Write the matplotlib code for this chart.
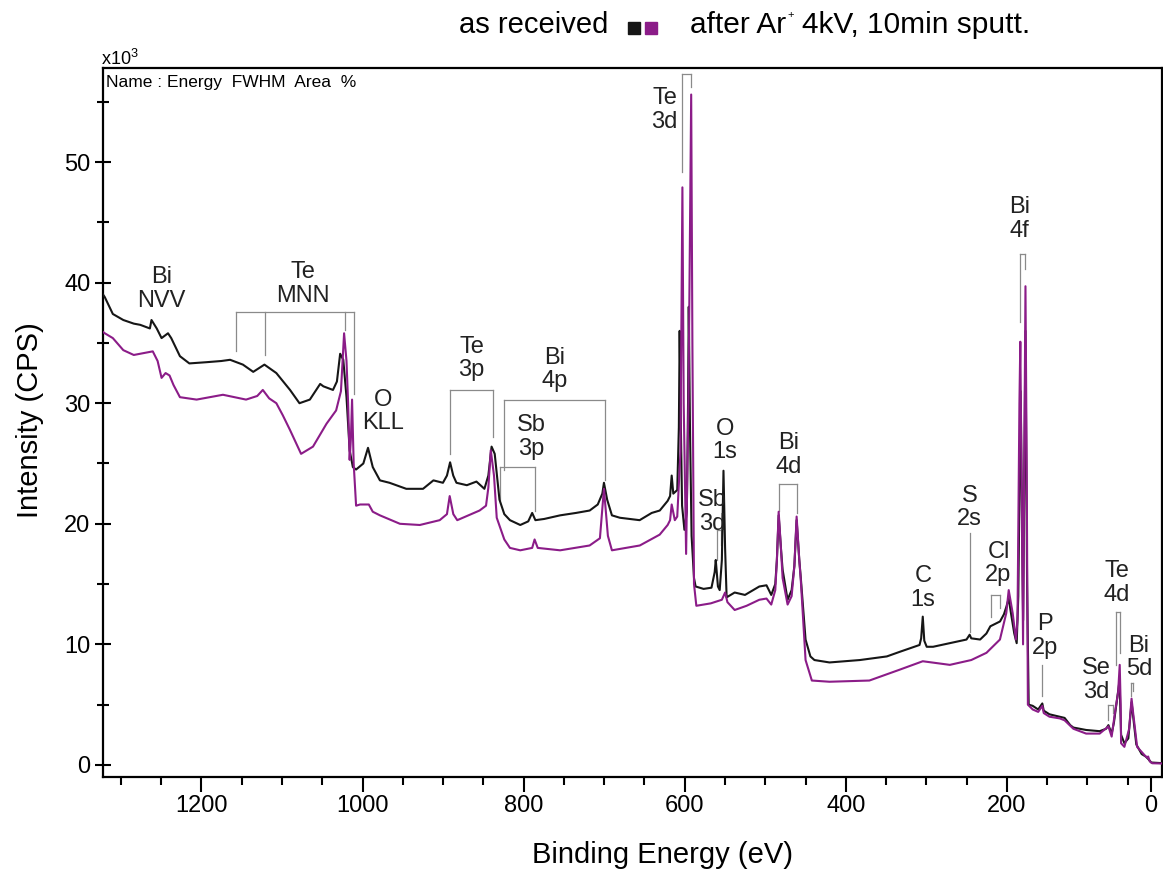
import matplotlib
matplotlib.use('Agg')
import matplotlib.pyplot as plt
from matplotlib.patches import Rectangle
from matplotlib.ticker import FixedLocator, MultipleLocator

plt.rcParams['font.family'] = ['Liberation Sans', 'DejaVu Sans']
plt.rcParams['mathtext.fontset'] = 'custom'
plt.rcParams['mathtext.rm'] = 'Liberation Sans'
plt.rcParams['mathtext.it'] = 'Liberation Sans:italic'

# --- data (binding energy in eV, intensity in 10^3 CPS) ---
black_ev = [1322, 1320, 1310, 1297, 1284, 1276, 1264, 1262, 1255.5, 1249.5, 1241.5, 1237.5,
            1226.7, 1215, 1194, 1175.3, 1164.4, 1148.5, 1135.7, 1121.8, 1107, 1090, 1078.3,
            1065.4, 1052.6, 1048.6, 1036.7, 1031.8, 1027.8, 1023.9, 1019.9, 1016, 1012, 1008,
            999, 993.2, 987.3, 978.4, 966.5, 945.7, 924.9, 912, 900.2, 895.2, 891.3, 887.4,
            883.4, 870.5, 858.6, 848.7, 843.8, 839.8, 835.9, 830, 824, 817, 804.2, 794.3,
            789.4, 785.4, 774.5, 754.7, 735, 718, 708, 702.3, 700.3, 696.3, 690.4, 680.5, 656,
            641, 631, 621.2, 618.2, 616.2, 614.2, 609.3, 607.3, 606.3, 604.8, 603.3, 600.4,
            597.4, 595.9, 595, 593.5, 591.5, 588.5, 586.5, 576.6, 566.8, 562.8, 561.5, 558.8,
            556.6, 553.9, 551.9, 549.9, 548, 538, 525.2, 507.4, 498.5, 492.6, 487.6, 485.6,
            483.4, 480.6, 478.5, 472.3, 467.3, 463.9, 461.1, 457.8, 455.9, 450, 444, 439,
            420.3, 382.6, 349.1, 332.3, 308.5, 306.5, 304.5, 302.6, 299.6, 291.7, 270.9,
            250.2, 246.3, 244.3, 233.3, 225.5, 220.6, 208.6, 203.7, 200.8, 197.8, 194.8,
            190.9, 187.9, 185.9, 183, 179.9, 177, 175, 173, 168, 161.2, 156.1, 154.3, 147.2,
            134.4, 128.4, 121.4, 117.5, 101.7, 84.9, 76.9, 74, 70, 67.2, 63.2, 60.2, 58.3,
            54.2, 49.3, 45.3, 43.3, 39.4, 32.7, 27.7, 24.7, 20.8, 7.5]
black_cps = [39.0, 38.8, 37.4, 36.9, 36.6, 36.5, 36.2, 36.9, 36.2, 35.4, 35.8, 35.4,
             33.9, 33.3, 33.4, 33.5, 33.6, 33.2, 32.6, 33.2, 32.5, 31.1, 30.0,
             30.3, 31.6, 31.4, 31.1, 31.8, 34.1, 33.6, 30.5, 26.1, 24.7, 24.5,
             25.0, 26.3, 24.7, 23.6, 23.4, 22.9, 22.9, 23.6, 23.4, 24.0, 25.1, 24.0,
             23.4, 23.2, 23.5, 22.9, 24.0, 26.4, 25.8, 22.0, 20.8, 20.3, 19.9, 20.2,
             20.9, 20.3, 20.4, 20.7, 20.9, 21.1, 21.6, 22.5, 23.4, 22.0, 20.7, 20.5, 20.3,
             20.9, 21.1, 21.9, 22.3, 24.0, 22.5, 22.8, 28.0, 36.0, 28.0, 21.5, 19.5,
             21.0, 30.0, 38.0, 28.0, 19.0, 15.5, 14.8, 14.6, 14.7, 16.0, 17.0, 14.8,
             14.5, 17.0, 24.4, 18.0, 13.9, 14.3, 14.1, 14.8, 14.9, 14.1, 15.0, 17.0,
             20.7, 18.0, 16.2, 13.7, 14.5, 16.5, 20.3, 17.0, 15.5, 10.4, 9.0, 8.7,
             8.5, 8.7, 9.0, 9.4, 9.95, 10.5, 12.3, 10.3, 9.8, 9.8, 10.1,
             10.4, 10.8, 10.5, 10.4, 10.9, 11.5, 11.9, 12.5, 13.1, 13.8, 12.5,
             10.9, 10.1, 14.0, 31.0, 12.0, 36.0, 15.0, 5.0, 4.9, 4.6, 5.1, 4.5, 4.2,
             4.0, 3.9, 3.3, 3.1, 2.9, 2.8, 3.0, 3.3, 2.6, 3.5, 5.5, 7.0, 2.5,
             1.8, 2.2, 5.2, 4.0, 1.7, 0.9, 0.7, 0.5, 0.2, 0.15]

purple_ev = [1322, 1320, 1310, 1297, 1284, 1276, 1260.4, 1254.4, 1249.5, 1244.5, 1239.6, 1234.6,
             1226.7, 1206, 1173.3, 1144.6, 1130.7, 1123.8, 1115.9, 1107, 1099, 1090.2, 1076.3,
             1061.5, 1044.7, 1032.8, 1026.8, 1022.9, 1019.9, 1017.9, 1016, 1014.5, 1013, 1011,
             1008, 1003.1, 992.2, 987.3, 978.4, 953.6, 928.9, 904.2, 895.2, 891.8, 887.3,
             882.4, 854.7, 846.7, 843.8, 840.8, 836.8, 833.4, 824, 817, 804.2, 789.4, 786.4,
             782.5, 754.7, 718.1, 705.3, 700.3, 695.4, 690.4, 655.8, 631.1, 621.2, 618.2,
             616.2, 612.3, 609.3, 605.3, 603.8, 602.9, 601.3, 598.3, 595.4, 593.4, 592,
             590.5, 588.5, 585.6, 567.7, 553.9, 549.9, 547, 538, 523.2, 507.4, 498.5, 492.6,
             487.6, 485.6, 483.4, 480.6, 478.5, 472.3, 467.3, 463.9, 461.1, 457.8, 455.9,
             450, 442.2, 420.3, 370.8, 333.2, 304.5, 270.9, 244.3, 225.4, 208.7, 200.8,
             197.8, 192.9, 188.9, 186.9, 184.5, 183.4, 182, 180, 178, 177, 175.5, 174, 168,
             161.2, 156.1, 154.3, 147.2, 134.4, 128.4, 117.5, 101.7, 84.9, 74, 70, 66, 62,
             60, 58.8, 58.3, 54.2, 48.3, 45.3, 43.3, 38.4, 27.7, 25.7, 24.7, 22.7, 19.6, 7.5]
purple_cps = [35.9, 35.8, 35.4, 34.4, 34.0, 34.1, 34.3, 33.5, 32.1, 32.5, 32.3, 31.5,
              30.5, 30.3, 30.7, 30.3, 30.6, 31.1, 30.4, 30.0, 29.0, 27.8, 25.8,
              26.4, 28.3, 29.4, 31.0, 35.8, 33.5, 30.0, 25.3, 27.0, 30.3, 25.0,
              21.5, 21.6, 21.6, 21.0, 20.7, 20.0, 19.9, 20.3, 20.8, 22.3, 20.8,
              20.3, 21.1, 21.5, 23.0, 26.1, 24.0, 20.5, 18.7, 18.0, 17.8, 18.0, 18.7,
              18.0, 17.8, 18.2, 18.8, 22.9, 19.0, 17.8, 18.2, 19.1, 19.9, 20.3,
              21.6, 20.3, 20.6, 26.0, 40.0, 47.9, 30.0, 17.5, 30.0, 45.0, 55.6,
              35.0, 15.0, 13.2, 13.4, 13.7, 14.3, 13.5, 12.85, 13.2, 13.7, 13.8, 13.3,
              14.5, 17.0, 21.0, 18.0, 15.5, 13.3, 14.0, 16.5, 20.6, 17.0, 15.3,
              8.7, 7.0, 6.9, 7.0, 7.9, 8.6, 8.3, 8.7, 9.3, 10.4, 12.6,
              14.5, 12.6, 10.4, 12.0, 30.0, 35.1, 25.0, 10.0, 30.0, 39.7, 25.0, 5.0, 4.6,
              4.4, 4.9, 4.3, 4.0, 3.86, 3.7, 3.0, 2.6, 2.6, 3.2, 2.35, 4.3, 6.0,
              8.3, 5.0, 1.8, 1.5, 3.0, 5.5, 4.3, 1.5, 0.7, 0.6, 0.7, 0.3, 0.14, 0.12]

# peak labels: (text, x eV, y 10^3 CPS)
peak_labels = [('Bi\nNVV', 1249.7, 39.5), ('Te\nMNN', 1073.9, 39.9), ('O\nKLL', 974.5, 29.3),
               ('Te\n3p', 864.8, 33.7), ('Bi\n4p', 761.4, 32.8), ('Sb\n3p', 790, 27.2),
               ('Te\n3d', 625, 54.3), ('O\n1s', 550, 26.9), ('Sb\n3d', 566, 21.0),
               ('Bi\n4d', 471.3, 25.7), ('C\n1s', 304.1, 14.65), ('S\n2s', 246.2, 21.35),
               ('Cl\n2p', 210.5, 16.7), ('P\n2p', 152.8, 10.7), ('Se\n3d', 88.9, 7.05),
               ('Te\n4d', 64, 15.1), ('Bi\n5d', 36, 8.9), ('Bi\n4f', 184.1, 45.3)]

# brackets: (x positions, top, bottom of each leg)
brackets = [([1156.5, 1120.5, 1022.1, 1010.9], 37.6, [34.3, 34.0, 36.1, 30.8]),
            ([890.9, 838.0], 31.1, [25.8, 27.2]),
            ([824.7, 699.3], 30.3, [24.5, 23.6]),
            ([828.8, 786.2], 24.7, [22.0, 21.1]),
            ([602.8, 591.7], 57.3, [49.2, 56.2]),
            ([560.0, 555.0], 19.5, [17.0, 18.2]),
            ([483.3, 461.0], 23.3, [21.1, 20.9]),
            ([246.2], 19.2, [11.0]),
            ([220.2, 208.1], 14.1, [12.3, 13.0]),
            ([155.9], 8.3, [5.7]),
            ([74.7, 68.5], 5.0, [3.7, 4.3]),
            ([64.0, 59.1], 12.7, [8.3, 9.3]),
            ([46.5, 43.2], 6.8, [5.7, 6.1]),
            ([183.3, 177.1], 42.4, [36.7, 41.1])]

x_ticks = [1200, 1000, 800, 600, 400, 200, 21.5]
x_tick_labels = ['1200', '1000', '800', '600', '400', '200', '0']
x_minor = [1300, 1250, 1150, 1100, 1050, 950, 900, 850, 750, 700, 650, 550, 500, 450,
           350, 300, 250, 150, 100, 50]

BLACK = '#161616'
PURPLE = '#8b1c88'
GREY = '#8a8a8a'

W, H = 1163, 873
fig = plt.figure(figsize=(W / 100, H / 100), dpi=100)
ax = fig.add_axes([103 / W, 1 - 777 / H, (1162 - 103) / W, (777 - 68) / H])

ax.plot(black_ev, black_cps, color=BLACK, lw=1.5, zorder=3)
ax.plot(purple_ev, purple_cps, color=PURPLE, lw=1.5, zorder=4)

for xs, top, bottoms in brackets:
    if len(xs) > 1:
        ax.plot([min(xs), max(xs)], [top, top], color=GREY, lw=0.9, zorder=2)
    for x, b in zip(xs, bottoms):
        ax.plot([x, x], [top, b], color=GREY, lw=0.9, zorder=2)

for txt, x, y in peak_labels:
    ax.text(x, y, txt, fontsize=17, ha='center', va='center', linespacing=1.1,
            color='#222222', zorder=5)

ax.set_xlim(1322.2, 7.5)
ax.set_ylim(-1.0, 57.8)
ax.xaxis.set_major_locator(FixedLocator(x_ticks))
ax.set_xticklabels(x_tick_labels)
ax.xaxis.set_minor_locator(FixedLocator(x_minor))
ax.yaxis.set_major_locator(MultipleLocator(10))
ax.yaxis.set_minor_locator(MultipleLocator(5))

for s in ax.spines.values():
    s.set_linewidth(1.6)
ax.tick_params(axis='x', which='major', direction='out', length=11, width=1.5,
               labelsize=17, pad=2)
ax.tick_params(axis='x', which='minor', direction='out', length=5.5, width=1.5)
ax.tick_params(axis='y', which='major', direction='inout', length=12, width=1.5,
               labelsize=17, pad=3)
ax.tick_params(axis='y', which='minor', direction='inout', length=8, width=1.5)

fig.text(30 / W, 1 - 420 / H, 'Intensity (CPS)', rotation=90, fontsize=21,
         ha='center', va='center')
fig.text(663 / W, 1 - 855 / H, 'Binding Energy (eV)', fontsize=21, ha='center', va='center')
fig.text(101 / W, 1 - 59 / H, r'x10$^3$', fontsize=13, ha='left', va='center')
fig.text(106 / W, 1 - 83 / H, 'Name : Energy  FWHM  Area  %', fontsize=12.5,
         ha='left', va='center')

# legend at the top
fig.text(608 / W, 1 - 25 / H, 'as received', fontsize=21, ha='right', va='center')
fig.add_artist(Rectangle((628 / W, 1 - 34 / H), 12 / W, 12 / H, transform=fig.transFigure,
                         color=BLACK))
fig.add_artist(Rectangle((645 / W, 1 - 34 / H), 12 / W, 12 / H, transform=fig.transFigure,
                         color=PURPLE))
t_ar = fig.text(690 / W, 1 - 25 / H, 'after Ar', fontsize=21.5, ha='left', va='center')
renderer = fig.canvas.get_renderer()
x_end = t_ar.get_window_extent(renderer).x1
fig.text((x_end + 1) / W, 1 - 15 / H, '+', fontsize=8, ha='left', va='center')
fig.text((x_end + 16) / W, 1 - 25 / H, '4kV, 10min sputt.', fontsize=21.5,
         ha='left', va='center')

fig.savefig('out.png', dpi=100)
